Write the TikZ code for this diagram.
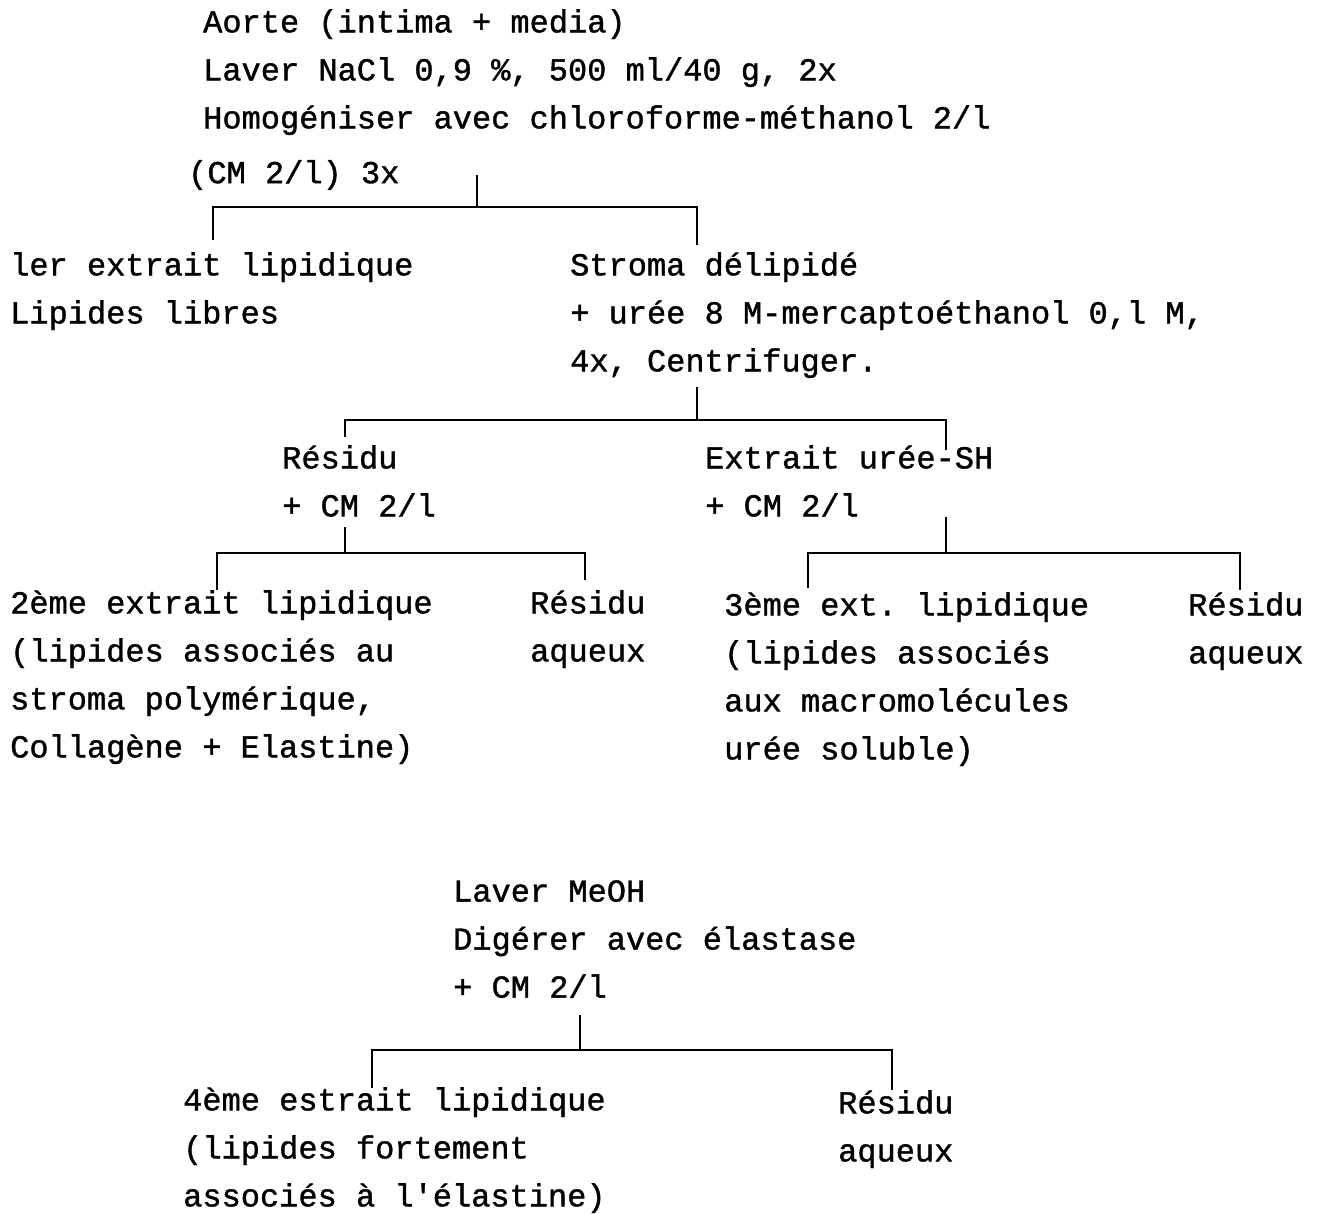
\documentclass[tikz,border=0pt]{standalone}
\usepackage{fontspec}
\newfontfamily\tw[FakeBold=1.2]{Liberation Mono}
\frenchspacing
\begin{document}
\begin{tikzpicture}[x=1pt,y=-1pt,
  lbl/.style={anchor=north west, inner sep=0pt, align=left,
    font=\tw\fontsize{32}{48}\selectfont\frenchspacing,
    execute at begin node={\rule{0pt}{28pt}}},
  wire/.style={line width=1.6pt, line cap=butt, line join=miter}]
\useasboundingbox (0,0) rectangle (1319,1213);

% --- text blocks ---
\node[lbl] (top) at (203,9) {Aorte (intima + media)\\Laver NaCl 0,9 \%, 500 ml/40 g, 2x\\Homogéniser avec chloroforme-méthanol 2/l};
\node[lbl] (cm) at (188,155) {(CM 2/l) 3x};
\node[lbl] (ex1) at (10,252) {ler extrait lipidique\\Lipides libres};
\node[lbl] (str) at (570,252) {Stroma délipidé\\+ urée 8 M-mercaptoéthanol 0,l M,\\4x, Centrifuger.};
\node[lbl] (res1) at (282,445) {Résidu\\+ CM 2/l};
\node[lbl] (ure) at (705,445) {Extrait urée-SH\\+ CM 2/l};
\node[lbl] (ex2) at (10,590) {2ème extrait lipidique\\(lipides associés au\\stroma polymérique,\\Collagène + Elastine)};
\node[lbl] (aq1) at (530,590) {Résidu\\aqueux};
\node[lbl] (ex3) at (724,592) {3ème ext. lipidique\\(lipides associés\\aux macromolécules\\urée soluble)};
\node[lbl] (aq2) at (1188,592) {Résidu\\aqueux};
\node[lbl] (mid) at (453,880) {Laver MeOH\\Digérer avec élastase\\+ CM 2/l};
\node[lbl] (ex4) at (183,1087) {4ème estrait lipidique\\(lipides fortement\\associés à l'élastine)};
\node[lbl] (aq3) at (838,1090) {Résidu\\aqueux};

% --- branch points ---
\coordinate (s1) at (477,175);  \coordinate (j1) at (477,207);
\coordinate (a1) at (213,240);  \coordinate (b1) at (697,245);
\coordinate (s2) at (697,387);  \coordinate (j2) at (697,420);
\coordinate (a2) at (345,437);  \coordinate (b2) at (946,450);
\coordinate (s3) at (345,527);  \coordinate (j3) at (345,553);
\coordinate (a3) at (217,590);  \coordinate (b3) at (585,580);
\coordinate (s4) at (946,517);  \coordinate (j4) at (946,553);
\coordinate (a4) at (808,588);  \coordinate (b4) at (1240,590);
\coordinate (s5) at (580,1015); \coordinate (j5) at (580,1050);
\coordinate (a5) at (372,1088); \coordinate (b5) at (892,1090);

% --- connectors ---
\draw[wire] (s1) -- (j1);
\draw[wire] (a1) -- (a1 |- j1) -- (b1 |- j1) -- (b1);
\draw[wire] (s2) -- (j2);
\draw[wire] (a2) -- (a2 |- j2) -- (b2 |- j2) -- (b2);
\draw[wire] (s3) -- (j3);
\draw[wire] (a3) -- (a3 |- j3) -- (b3 |- j3) -- (b3);
\draw[wire] (s4) -- (j4);
\draw[wire] (a4) -- (a4 |- j4) -- (b4 |- j4) -- (b4);
\draw[wire] (s5) -- (j5);
\draw[wire] (a5) -- (a5 |- j5) -- (b5 |- j5) -- (b5);
\end{tikzpicture}
\end{document}
